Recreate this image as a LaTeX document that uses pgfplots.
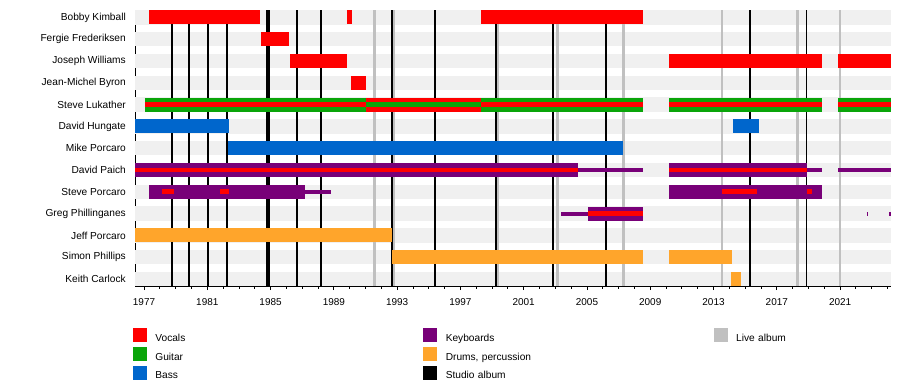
\documentclass[border=0pt]{standalone}
\usepackage{fontspec}
\setmainfont{Liberation Sans}
\usepackage{pgfplots}
\pgfplotsset{compat=1.18}
\definecolor{cVoc}{HTML}{FF0000}
\definecolor{cGui}{HTML}{0AA50A}
\definecolor{cBas}{HTML}{0066CC}
\definecolor{cKey}{HTML}{780078}
\definecolor{cDru}{HTML}{FFA52B}
\definecolor{cLive}{HTML}{C0C0C0}
\definecolor{cRow}{HTML}{F0F0F0}
\pgfplotsset{
  sq/.style={legend image code/.code={\fill[#1] (0bp,-3bp) rectangle (13bp,10bp);}},
  full/.style={line width=14bp, forget plot, unbounded coords=jump},
  inner/.style={line width=4.8bp, forget plot, unbounded coords=jump},
  thin/.style={line width=4bp, forget plot, unbounded coords=jump},
  vline/.style={forget plot, unbounded coords=jump},
}
\begin{document}
\begin{tikzpicture}
\useasboundingbox (0,0) rectangle (900bp,386bp);
\begin{axis}[
  at={(135bp,100bp)}, anchor=south west,
  width=756bp, height=276bp, scale only axis,
  xmin=1976.43, xmax=2024.22, ymin=0.66, ymax=13.32, y dir=reverse,
  axis lines=left, axis line style={-, black, line width=0.8bp},
  tick align=outside, major tick length=4bp, minor tick length=2.5bp,
  xtick={1977,1981,...,2021}, minor xtick={1977,...,2024},
  xtick style={black, line width=0.8bp},
  ytick style={draw=none},
  /pgf/number format/.cd, 1000 sep={}, assume math mode=true, /pgfplots/.cd,
  ytick={1,...,13},
  yticklabels={Bobby Kimball, Fergie Frederiksen, Joseph Williams, Jean-Michel Byron, Steve Lukather, David Hungate, Mike Porcaro, David Paich, Steve Porcaro, Greg Phillinganes, Jeff Porcaro, Simon Phillips, Keith Carlock},
  yticklabel style={font=\fontsize{10.2}{12}\selectfont, inner xsep=0pt, xshift=-5bp},
  xticklabel style={font=\fontsize{10}{12}\selectfont, inner sep=0pt, yshift=-8.5bp},
  legend columns=3,
  legend cell align=left,
  legend style={at={(axis description cs:0,0)}, anchor=north west, xshift=-2bp, yshift=-42bp,
    draw=none, fill=none, inner sep=0pt, outer sep=0pt, row sep=4.3bp,
    nodes={inner sep=0pt, text width=268bp, font=\fontsize{10.2}{12}\selectfont},
    /tikz/every odd column/.append style={column sep=9bp}},
]
% row background stripes
\addplot[cRow, line width=14.5bp, forget plot, unbounded coords=jump] coordinates {
 (1976.43,1) (2024.22,1) (nan,nan) (1976.43,2) (2024.22,2) (nan,nan)
 (1976.43,3) (2024.22,3) (nan,nan) (1976.43,4) (2024.22,4) (nan,nan)
 (1976.43,5) (2024.22,5) (nan,nan) (1976.43,6) (2024.22,6) (nan,nan)
 (1976.43,7) (2024.22,7) (nan,nan) (1976.43,8) (2024.22,8) (nan,nan)
 (1976.43,9) (2024.22,9) (nan,nan) (1976.43,10) (2024.22,10) (nan,nan)
 (1976.43,11) (2024.22,11) (nan,nan) (1976.43,12) (2024.22,12) (nan,nan)
 (1976.43,13) (2024.22,13)};
% live albums
\addplot[cLive, line width=2.5bp, vline] coordinates {
 (1991.56,0.66) (1991.56,13.32) (nan,nan) (1992.80,0.66) (1992.80,13.32) (nan,nan)
 (1999.36,0.66) (1999.36,13.32) (nan,nan) (2003.14,0.66) (2003.14,13.32) (nan,nan)
 (2007.30,0.66) (2007.30,13.32) (nan,nan) (2013.55,0.66) (2013.55,13.32) (nan,nan)
 (2018.30,0.66) (2018.30,13.32) (nan,nan) (2021.00,0.66) (2021.00,13.32)};
% studio albums
\addplot[black, line width=1.8bp, vline] coordinates {
 (1978.77,0.66) (1978.77,13.32) (nan,nan) (1979.84,0.66) (1979.84,13.32) (nan,nan)
 (1981.03,0.66) (1981.03,13.32) (nan,nan) (1982.23,0.66) (1982.23,13.32) (nan,nan)
 (1984.77,0.66) (1984.77,13.32) (nan,nan) (1984.92,0.66) (1984.92,13.32) (nan,nan)
 (1986.65,0.66) (1986.65,13.32) (nan,nan) (1988.19,0.66) (1988.19,13.32) (nan,nan)
 (1992.66,0.66) (1992.66,13.32) (nan,nan) (1995.39,0.66) (1995.39,13.32) (nan,nan)
 (1999.25,0.66) (1999.25,13.32) (nan,nan) (2002.83,0.66) (2002.83,13.32) (nan,nan)
 (2006.18,0.66) (2006.18,13.32) (nan,nan) (2015.30,0.66) (2015.30,13.32) (nan,nan)
 (2018.88,0.66) (2018.88,13.32)};
% vocals (full)
\addplot[cVoc, full] coordinates {
 (1977.32,1) (1984.31,1) (nan,nan) (1989.83,1) (1990.15,1) (nan,nan) (1998.30,1) (2008.52,1) (nan,nan)
 (1984.40,2) (1986.15,2) (nan,nan)
 (1986.23,3) (1989.81,3) (nan,nan) (2010.19,3) (2019.83,3) (nan,nan) (2020.89,3) (2024.22,3) (nan,nan)
 (1990.08,4) (1991.03,4) (nan,nan)
 (1991.03,5) (1998.30,5)};
% guitar (full)
\addplot[cGui, full] coordinates {
 (1977.06,5) (1991.03,5) (nan,nan) (1998.30,5) (2008.52,5) (nan,nan)
 (2010.19,5) (2019.83,5) (nan,nan) (2020.89,5) (2024.22,5)};
% bass (full)
\addplot[cBas, full] coordinates {
 (1976.43,6) (1982.35,6) (nan,nan) (2014.23,6) (2015.85,6) (nan,nan)
 (1982.29,7) (2007.28,7)};
% keyboards (full)
\addplot[cKey, full] coordinates {
 (1976.43,8) (2004.41,8) (nan,nan) (2010.19,8) (2018.94,8) (nan,nan)
 (1977.32,9) (1987.18,9) (nan,nan) (2010.19,9) (2019.83,9) (nan,nan)
 (2005.07,10) (2008.52,10)};
% keyboards (thin)
\addplot[cKey, thin] coordinates {
 (2004.41,8) (2008.52,8) (nan,nan) (2018.94,8) (2019.83,8) (nan,nan) (2020.89,8) (2024.22,8) (nan,nan)
 (1987.18,9) (1988.82,9) (nan,nan)
 (2003.36,10) (2005.07,10) (nan,nan) (2022.70,10) (2022.78,10) (nan,nan) (2024.10,10) (2024.22,10)};
% drums (full)
\addplot[cDru, full] coordinates {
 (1976.43,11) (1992.68,11) (nan,nan)
 (1992.68,12) (2008.52,12) (nan,nan) (2010.19,12) (2014.14,12) (nan,nan)
 (2014.10,13) (2014.71,13)};
% inner stripes: vocals
\addplot[cVoc, inner] coordinates {
 (1977.06,5) (1991.03,5) (nan,nan) (1998.30,5) (2008.52,5) (nan,nan)
 (2010.19,5) (2019.83,5) (nan,nan) (2020.89,5) (2024.22,5) (nan,nan)
 (1976.43,8) (2004.41,8) (nan,nan) (2010.19,8) (2018.94,8) (nan,nan)
 (1978.16,9) (1978.90,9) (nan,nan) (1981.82,9) (1982.35,9) (nan,nan)
 (2013.52,9) (2015.72,9) (nan,nan) (2018.92,9) (2019.20,9) (nan,nan)
 (2005.07,10) (2008.52,10)};
% inner stripes: guitar
\addplot[cGui, inner] coordinates {(1991.03,5) (1998.30,5)};
% legend
\addlegendimage{sq={cVoc}}\addlegendentry{Vocals}
\addlegendimage{sq={cKey}}\addlegendentry{Keyboards}
\addlegendimage{sq={cLive}}\addlegendentry{Live album}
\addlegendimage{sq={cGui}}\addlegendentry{Guitar}
\addlegendimage{sq={cDru}}\addlegendentry{Drums, percussion}
\addlegendimage{empty legend}\addlegendentry{}
\addlegendimage{sq={cBas}}\addlegendentry{Bass}
\addlegendimage{sq={black}}\addlegendentry{Studio album}
\end{axis}
\end{tikzpicture}
\end{document}
